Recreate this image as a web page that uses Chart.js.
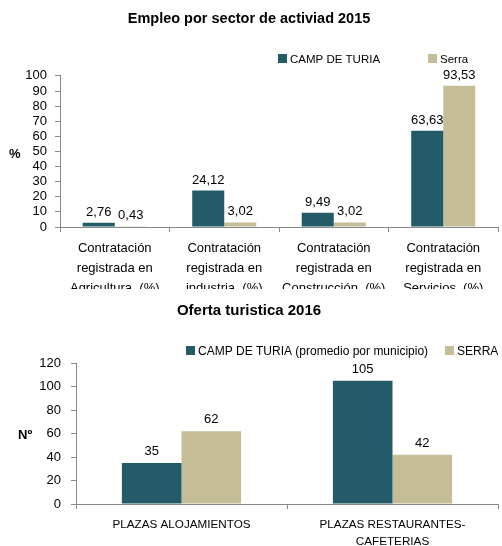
<!DOCTYPE html>
<html>
<head>
<meta charset="utf-8">
<script src="https://cdn.jsdelivr.net/npm/chart.js@4.4.1/dist/chart.umd.min.js"></script>
<style>
body { margin: 0; background: #fff; }
#topBox { position: absolute; left: 0; top: 0; width: 502px; height: 289px; overflow: hidden; }
#bottomBox { position: absolute; left: 0; top: 289px; width: 502px; height: 257px; overflow: hidden; }
</style>
</head>
<body>
<div id="topBox"><canvas id="empleo" width="502" height="310"></canvas></div>
<div id="bottomBox"><canvas id="oferta" width="502" height="257"></canvas></div>
<script>
const FONT = "'Liberation Sans', Arial, sans-serif";
const TEAL = "#245b69";
const TAN = "#c4bd97";
const AXIS = "#898989";

/* DATA */
const sectores = [
  ["Contratación", "registrada en", "Agricultura  (%)"],
  ["Contratación", "registrada en", "industria  (%)"],
  ["Contratación", "registrada en", "Construcción  (%)"],
  ["Contratación", "registrada en", "Servicios  (%)"]
];
const empleoCamp = [2.76, 24.12, 9.49, 63.63];
const empleoSerra = [0.43, 3.02, 3.02, 93.53];
const empleoSeries = ["CAMP DE TURIA", "Serra"];

const plazas = ["PLAZAS ALOJAMIENTOS", ["PLAZAS RESTAURANTES-", "CAFETERIAS"]];
const ofertaCamp = [35, 105];
const ofertaSerra = [62, 42];
const ofertaSeries = ["CAMP DE TURIA (promedio por municipio)", "SERRA"];

/* legend, side label and value labels drawn on the canvas */
function extras(cfg){
  return {
    id: "extras",
    afterDraw(chart){
      const ctx = chart.ctx;
      ctx.save();
      ctx.fillStyle = "#000";
      // value labels
      ctx.font = cfg.valueSize + "px " + FONT;
      ctx.textAlign = "center";
      ctx.textBaseline = "alphabetic";
      chart.data.datasets.forEach((ds, i) => {
        chart.getDatasetMeta(i).data.forEach((bar, j) => {
          ctx.fillText(cfg.format(ds.data[j]), bar.x, bar.y - cfg.gap);
        });
      });
      // legend
      ctx.font = cfg.legendSize + "px " + FONT;
      ctx.textAlign = "left";
      chart.data.datasets.forEach((ds, i) => {
        const x = cfg.legendX[i];
        ctx.fillStyle = ds.backgroundColor;
        ctx.fillRect(x, cfg.legendY - 9, 9, 9);
        ctx.fillStyle = "#000";
        ctx.fillText(ds.label, x + 12, cfg.legendY);
      });
      // horizontal axis label
      ctx.font = "bold " + cfg.sideSize + "px " + FONT;
      ctx.textAlign = "left";
      ctx.textBaseline = "middle";
      ctx.fillText(cfg.side, cfg.sideX, cfg.sideY);
      ctx.restore();
    }
  };
}

function barChart(id, o){
  return new Chart(document.getElementById(id), {
    type: "bar",
    data: {
      labels: o.labels,
      datasets: [
        { label: o.series[0], data: o.a, backgroundColor: TEAL, borderWidth: 0 },
        { label: o.series[1], data: o.b, backgroundColor: TAN, borderWidth: 0 }
      ]
    },
    options: {
      responsive: false,
      animation: false,
      devicePixelRatio: 1,
      layout: { padding: { left: 0, right: 4, top: 0, bottom: 0 } },
      categoryPercentage: o.catPct,
      barPercentage: 1,
      plugins: {
        legend: { display: false },
        tooltip: { enabled: false },
        title: {
          display: true,
          text: o.title,
          color: "#000",
          font: { family: FONT, size: o.titleSize, weight: "bold", lineHeight: 1.2 },
          padding: o.titlePad
        }
      },
      scales: {
        x: {
          afterFit: s => { s.height = o.xHeight; },
          grid: { drawOnChartArea: false, offset: true, tickLength: 5, color: AXIS },
          border: { color: AXIS },
          ticks: {
            color: "#000",
            autoSkip: false,
            maxRotation: 0,
            padding: o.xPad,
            font: { family: FONT, size: o.xSize, lineHeight: o.xLine }
          }
        },
        y: {
          min: 0,
          max: o.max,
          afterFit: s => { s.width = o.yWidth; },
          grid: { drawOnChartArea: false, tickLength: 5, color: AXIS },
          border: { color: AXIS },
          ticks: {
            stepSize: o.step,
            autoSkip: false,
            color: "#000",
            padding: o.yPad,
            font: { family: FONT, size: 13 }
          }
        }
      }
    },
    plugins: [extras(o.extras)]
  });
}

barChart("empleo", {
  labels: sectores, series: empleoSeries, a: empleoCamp, b: empleoSerra,
  title: "Empleo por sector de activiad 2015", titleSize: 14.5,
  titlePad: { top: 10, bottom: 48.5 },
  catPct: 0.585, max: 100, step: 10,
  xHeight: 83, xPad: 6, xSize: 13, xLine: 1.54,
  yWidth: 60, yPad: 8,
  extras: {
    valueSize: 13, gap: 7,
    format: v => v.toFixed(2).replace(".", ","),
    legendSize: 11.5, legendX: [278, 428], legendY: 63,
    side: "%", sideSize: 13, sideX: 9, sideY: 154
  }
});

barChart("oferta", {
  labels: plazas, series: ofertaSeries, a: ofertaCamp, b: ofertaSerra,
  title: "Oferta turistica 2016", titleSize: 15,
  titlePad: { top: 13, bottom: 43 },
  catPct: 0.565, max: 120, step: 20,
  xHeight: 42, xPad: 7, xSize: 11.7, xLine: 1.45,
  yWidth: 76, yPad: 10,
  extras: {
    valueSize: 13, gap: 8,
    format: v => String(v),
    legendSize: 12, legendX: [186, 445], legendY: 66,
    side: "Nº", sideSize: 13, sideX: 18, sideY: 146
  }
});
</script>
</body>
</html>
